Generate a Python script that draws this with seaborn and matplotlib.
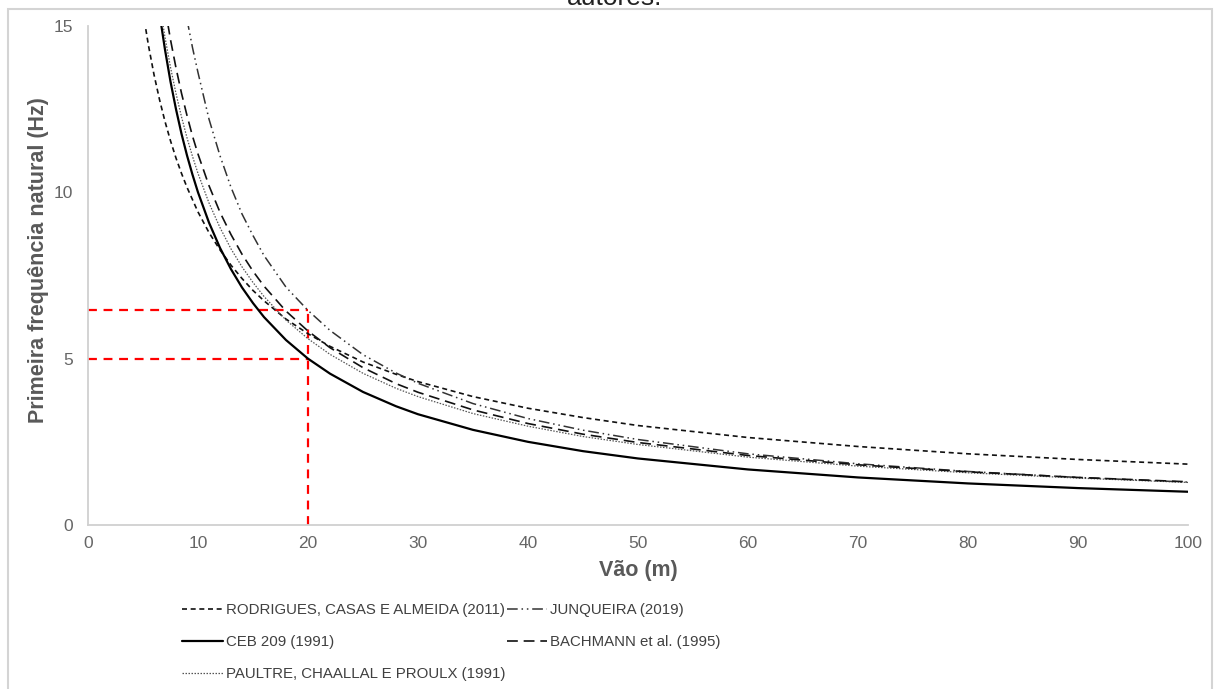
import numpy as np
import pandas as pd
import seaborn as sns
import matplotlib.pyplot as plt
from matplotlib.patches import Rectangle

# valores: vao (m) x primeira frequencia natural (Hz)
vao_rodrigues = [5, 5.5, 6, 6.5, 7, 7.5, 8, 8.5, 9, 10, 11, 12, 13, 14, 15, 16, 18, 20, 22, 25, 28, 30, 35, 40,
                 45, 50, 60, 70, 80, 90, 100]
freq_rodrigues = [15.42, 14.41, 13.54, 12.79, 12.13, 11.55, 11.03, 10.57, 10.15, 9.41, 8.79, 8.27, 7.81, 7.41,
                  7.05, 6.74, 6.19, 5.75, 5.37, 4.90, 4.53, 4.31, 3.86, 3.51, 3.23, 2.99, 2.63, 2.36, 2.14,
                  1.97, 1.83]

vao_ceb = [6, 6.5, 7, 7.5, 8, 8.5, 9, 9.5, 10, 11, 12, 13, 14, 15, 16, 18, 20, 22, 25, 28, 30, 35, 40, 45, 50,
           60, 70, 80, 90, 100]
freq_ceb = [16.67, 15.38, 14.29, 13.33, 12.5, 11.76, 11.11, 10.53, 10.0, 9.09, 8.33, 7.69, 7.14, 6.67, 6.25,
            5.56, 5.0, 4.55, 4.0, 3.57, 3.33, 2.86, 2.5, 2.22, 2.0, 1.67, 1.43, 1.25, 1.11, 1.0]

vao_paultre = [6, 6.5, 7, 7.5, 8, 8.5, 9, 9.5, 10, 11, 12, 13, 14, 15, 16, 18, 20, 22, 25, 28, 30, 35, 40, 45,
               50, 60, 70, 80, 90, 100]
freq_paultre = [16.88, 15.69, 14.66, 13.76, 12.97, 12.27, 11.64, 11.08, 10.57, 9.68, 8.94, 8.30, 7.76, 7.29,
                6.87, 6.16, 5.60, 5.13, 4.56, 4.11, 3.86, 3.35, 2.97, 2.66, 2.42, 2.04, 1.77, 1.57, 1.41, 1.28]

vao_junqueira = [9, 9.5, 10, 10.5, 11, 12, 13, 14, 15, 16, 18, 20, 22, 25, 28, 30, 35, 40, 45, 50, 60, 70, 80,
                 90, 100]
freq_junqueira = [15.2, 14.35, 13.6, 12.9, 12.2, 11.1, 10.15, 9.35, 8.7, 8.1, 7.15, 6.45, 5.85, 5.12, 4.57,
                  4.26, 3.65, 3.2, 2.85, 2.57, 2.14, 1.84, 1.61, 1.43, 1.29]

vao_bachmann = [7, 7.5, 8, 8.5, 9, 9.5, 10, 11, 12, 13, 14, 15, 16, 18, 20, 22, 25, 28, 30, 35, 40, 45, 50, 60,
                70, 80, 90, 100]
freq_bachmann = [15.56, 14.59, 13.74, 12.98, 12.31, 11.69, 11.15, 10.20, 9.40, 8.73, 8.14, 7.63, 7.18, 6.43,
                 5.83, 5.33, 4.73, 4.25, 3.99, 3.46, 3.05, 2.73, 2.48, 2.09, 1.81, 1.60, 1.43, 1.30]

# linhas de referencia em vermelho
ref_vao = 20
ref_freq = [5.0, 6.45]

sns.set_theme(style="white")
plt.rcParams['font.family'] = ['Liberation Sans', 'DejaVu Sans']

fig = plt.figure(figsize=(12.17, 6.89), dpi=100)
ax = fig.add_axes([0.0723, 0.238, 0.9039, 0.7243])

series = [
    ("RODRIGUES, CASAS E ALMEIDA (2011)", vao_rodrigues, freq_rodrigues, '#111111', 1.2, (0, (3.0, 2.2))),
    ("CEB 209 (1991)", vao_ceb, freq_ceb, '#000000', 1.6, '-'),
    ("PAULTRE, CHAALLAL E PROULX (1991)", vao_paultre, freq_paultre, '#555555', 0.9, (0, (1.2, 1.2))),
    ("JUNQUEIRA (2019)", vao_junqueira, freq_junqueira, '#333333', 1.1, (0, (7, 2.5, 1, 2.5, 1, 2.5))),
    ("BACHMANN et al. (1995)", vao_bachmann, freq_bachmann, '#111111', 1.2, (0, (6.5, 3.5))),
]

for label, x, y, color, lw, ls in series:
    df = pd.DataFrame({"vao": x, "freq": y})
    sns.lineplot(data=df, x="vao", y="freq", ax=ax, color=color, linewidth=lw,
                 linestyle=ls, label=label, estimator=None)

red_kw = dict(color='#ff0000', linewidth=1.6, linestyles=(0, (4, 3)), zorder=1)
ax.hlines(ref_freq, 0, ref_vao, **red_kw)
ax.vlines(ref_vao, 0, max(ref_freq), **red_kw)

ax.set_xlim(0, 100)
ax.set_ylim(0, 15)
ax.set_xticks(np.arange(0, 101, 10))
ax.set_yticks([0, 5, 10, 15])
ax.tick_params(axis='both', length=0, labelsize=12.5, labelcolor='#666666')
ax.tick_params(axis='x', pad=8)
ax.tick_params(axis='y', pad=11)

for side in ['top', 'right']:
    ax.spines[side].set_visible(False)
for side in ['left', 'bottom']:
    ax.spines[side].set_color('#d0d0d0')
    ax.spines[side].set_linewidth(1.3)

ax.set_xlabel("Vão (m)", fontsize=15.5, fontweight='bold', color='#595959')
ax.set_ylabel("Primeira frequência natural (Hz)", fontsize=15.5, fontweight='bold', color='#595959')
ax.xaxis.set_label_coords(0.5, -0.07)
ax.yaxis.set_label_coords(-0.035, 0.53)

handles, labels = ax.get_legend_handles_labels()
leg = ax.legend(handles, labels, ncol=2, frameon=False, fontsize=10.8,
                loc='upper left', bbox_to_anchor=(182 / 1217, 1 - 603 / 689),
                bbox_transform=fig.transFigure, borderaxespad=0, borderpad=0,
                handlelength=2.7, handletextpad=0.2, columnspacing=0.1,
                labelspacing=1.2)
for t in leg.get_texts():
    t.set_color('#404040')

# moldura da figura e legenda cortada acima
fig.patches.append(Rectangle((8 / 1217, -0.05), 1204 / 1217, 1.05 - 9 / 689,
                             transform=fig.transFigure, fill=False,
                             edgecolor='#d4d4d4', linewidth=1.5))
fig.text(0.505, 1 - 5 / 689, "autores.", ha='center', va='baseline', fontsize=19, color='#222222')

fig.savefig("out.png", dpi=100)
